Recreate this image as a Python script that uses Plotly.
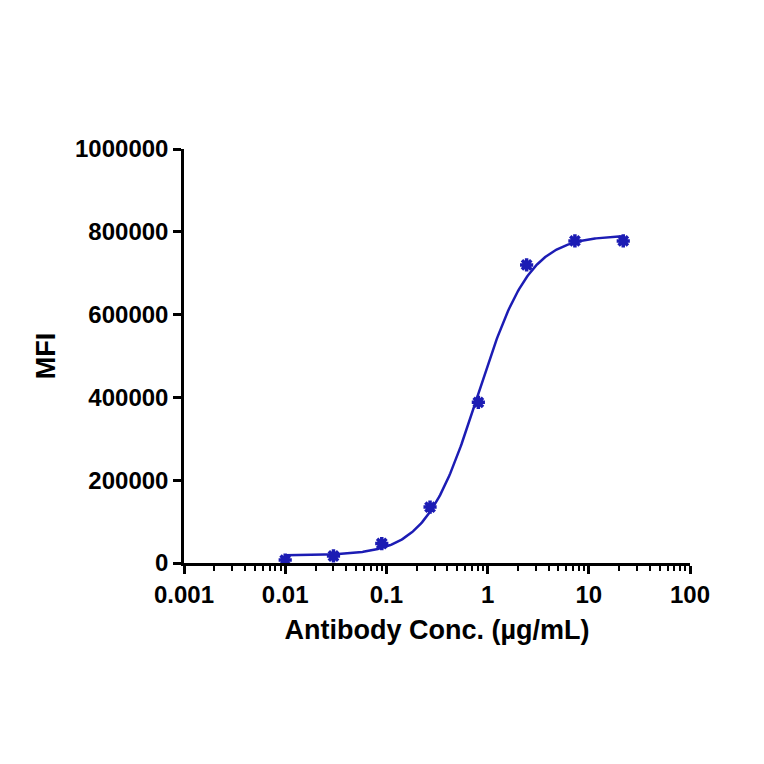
import numpy as np
import plotly.graph_objects as go

conc = [0.01, 0.03, 0.09, 0.27, 0.81, 2.43, 7.29, 21.9]
mfi = [7000, 17000, 47000, 135000, 388000, 720000, 778000, 778000]
# 4PL fit parameters (bottom, top, EC50, hill)
fit_bottom, fit_top, fit_ec50, fit_hill = 18000, 792000, 0.8, 1.7

xf = np.logspace(np.log10(conc[0]), np.log10(conc[-1]), 300)
yf = fit_bottom + (fit_top - fit_bottom) / (1 + (fit_ec50 / xf) ** fit_hill)

blue = "#1c1cb4"
fig = go.Figure()
fig.add_trace(go.Scatter(x=xf, y=yf, mode="lines", line=dict(color=blue, width=2.5), showlegend=False))
fig.add_trace(go.Scatter(x=conc, y=mfi, mode="markers",
                         marker=dict(symbol="asterisk-open", size=11, color=blue, line=dict(color=blue, width=3.5)),
                         showlegend=False))
fig.update_layout(
    width=764, height=764, plot_bgcolor="white", paper_bgcolor="white",
    margin=dict(l=176, r=82, t=141, b=209),
    font=dict(family="Liberation Sans", color="black"),
)
fig.update_xaxes(type="log", range=[-3, 2], showgrid=False, zeroline=False,
                 showline=True, linecolor="black", linewidth=2.5,
                 ticks="outside", ticklen=8, tickwidth=2.5, tickcolor="black",
                 tickvals=[0.001, 0.01, 0.1, 1, 10, 100],
                 ticktext=["0.001", "0.01", "0.1", "1", "10", "100"],
                 tickfont=dict(family="Liberation Sans", size=24, color="black", weight="bold"),
                 minor=dict(ticks="outside", ticklen=5, tickwidth=2, tickcolor="black", dtick="D1", showgrid=False),
                 title=dict(text="<b>Antibody Conc. (µg/mL)</b>", font=dict(family="Liberation Sans", size=27, color="black"), standoff=14))
fig.update_yaxes(range=[0, 1000000], showgrid=False, zeroline=False,
                 showline=True, linecolor="black", linewidth=2.5,
                 ticks="outside", ticklen=8, tickwidth=2.5, tickcolor="black",
                 dtick=200000, tickformat="d",
                 tickfont=dict(family="Liberation Sans", size=24, color="black", weight="bold"),
                 title=dict(text="<b>MFI</b>", font=dict(family="Liberation Sans", size=27, color="black"), standoff=12))
fig.write_html("out.html")
